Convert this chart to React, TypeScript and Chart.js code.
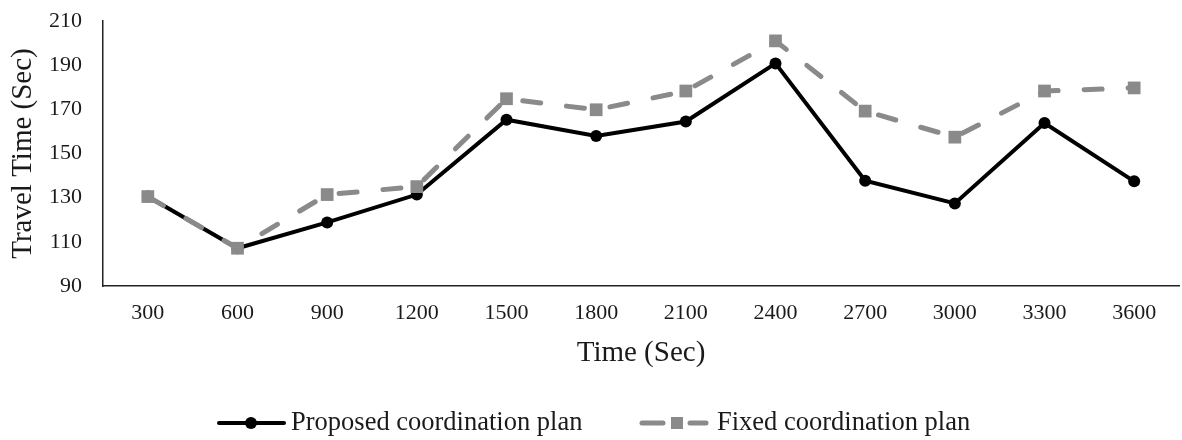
import React, { useEffect, useRef } from "react";
import { Chart, registerables } from "chart.js";

Chart.register(...registerables);

const categories = ["300", "600", "900", "1200", "1500", "1800", "2100", "2400", "2700", "3000", "3300", "3600"];
const proposedPlan = [130.5, 107.1, 118.8, 131.4, 165.3, 157.9, 164.5, 190.8, 137.7, 127.4, 163.8, 137.4];
const fixedPlan = [130.5, 107.1, 131.4, 135, 174.8, 169.8, 178.3, 201, 169.2, 157.4, 178.3, 179.7];
const seriesNames = ["Proposed coordination plan", "Fixed coordination plan"];
const xTitle = "Time (Sec)";
const yTitle = "Travel Time (Sec)";

const FONT = "'Liberation Serif', 'Times New Roman', serif";
const TEXT = "#1a1a1a";
const GRAY = "#8a8a8a";

const legendPlugin = {
  id: "customLegend",
  afterDraw(chart: any) {
    const ctx = chart.ctx;
    const y = 423;
    ctx.save();
    // Proposed
    ctx.strokeStyle = "#000";
    ctx.lineWidth = 4;
    ctx.lineCap = "round";
    ctx.beginPath();
    ctx.moveTo(219, y);
    ctx.lineTo(284, y);
    ctx.stroke();
    ctx.fillStyle = "#000";
    ctx.beginPath();
    ctx.arc(251, y, 6, 0, Math.PI * 2);
    ctx.fill();
    ctx.font = `26.5px ${FONT}`;
    ctx.fillStyle = TEXT;
    ctx.textBaseline = "middle";
    ctx.textAlign = "left";
    ctx.fillText(seriesNames[0], 291, y);
    // Fixed
    ctx.strokeStyle = GRAY;
    ctx.lineWidth = 5;
    ctx.beginPath();
    ctx.moveTo(642, y);
    ctx.lineTo(663, y);
    ctx.moveTo(690, y);
    ctx.lineTo(706, y);
    ctx.stroke();
    ctx.fillStyle = GRAY;
    ctx.fillRect(671, y - 6, 12, 12);
    ctx.fillStyle = TEXT;
    ctx.fillText(seriesNames[1], 717, y);
    ctx.restore();
  },
};

export default function App() {
  const ref = useRef<HTMLCanvasElement>(null);
  useEffect(() => {
    document.body.style.margin = "0";
    const chart = new Chart(ref.current!, {
      type: "line",
      data: {
        labels: categories,
        datasets: [
          {
            label: seriesNames[1],
            data: fixedPlan,
            borderColor: GRAY,
            backgroundColor: GRAY,
            borderWidth: 5,
            borderDash: [18, 26],
            borderCapStyle: "round",
            pointStyle: "rect",
            pointRadius: 9,
            pointBorderWidth: 0,
            pointBackgroundColor: GRAY,
            tension: 0,
            order: 0,
          },
          {
            label: seriesNames[0],
            data: proposedPlan,
            borderColor: "#000",
            backgroundColor: "#000",
            borderWidth: 4,
            pointStyle: "circle",
            pointRadius: 6,
            pointBorderWidth: 0,
            pointBackgroundColor: "#000",
            tension: 0,
            order: 1,
          },
        ],
      },
      options: {
        responsive: false,
        animation: false,
        layout: { autoPadding: false, padding: { top: 21, right: 3, bottom: 60, left: 0 } },
        plugins: { legend: { display: false }, tooltip: { enabled: false } },
        scales: {
          x: {
            offset: true,
            grid: { display: false, drawTicks: false },
            border: { display: true, color: "#222", width: 1.5 },
            ticks: { color: TEXT, font: { family: FONT, size: 22 }, padding: 14, maxRotation: 0 },
            title: { display: true, text: xTitle, color: TEXT, font: { family: FONT, size: 29 }, padding: { top: 0, bottom: 9.6 } },
            afterFit(scale: any) {
              scale.height = 94;
              scale.paddingLeft = 0;
              scale.paddingRight = 0;
            },
          },
          y: {
            min: 90,
            max: 210,
            grid: { display: false, drawTicks: false },
            border: { display: true, color: "#222", width: 1.5 },
            ticks: { stepSize: 20, color: TEXT, font: { family: FONT, size: 22 }, padding: 21 },
            title: { display: true, text: yTitle, color: TEXT, font: { family: FONT, size: 29 }, padding: { top: 6, bottom: 0 } },
            afterFit(scale: any) {
              scale.width = 103;
              scale.paddingTop = 0;
              scale.paddingBottom = 0;
            },
          },
        },
      },
      plugins: [legendPlugin],
    });
    return () => chart.destroy();
  }, []);
  return <canvas ref={ref} width={1182} height={440} style={{ display: "block" }} />;
}
